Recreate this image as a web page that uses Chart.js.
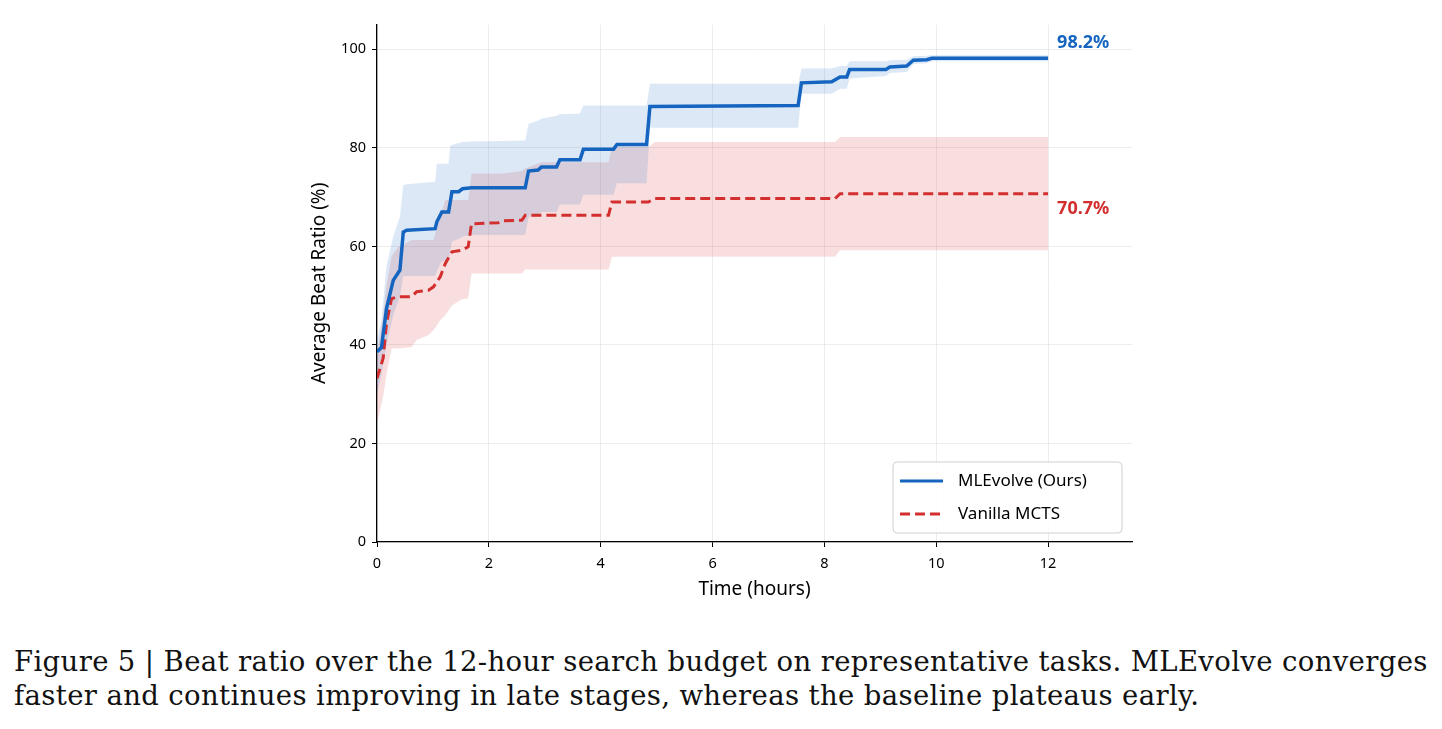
<!DOCTYPE html>
<html>
<head>
<meta charset="utf-8">
<script src="https://cdn.jsdelivr.net/npm/chart.js@4.4.1/dist/chart.umd.min.js"></script>
<style>
  html, body { margin: 0; padding: 0; background: #fff; }
  body { width: 1442px; height: 729px; position: relative; overflow: hidden; }
  #chart { position: absolute; left: 300px; top: 10px; }
  .caption {
    position: absolute; left: 14px; top: 644px; width: 1420px;
    font-family: "DejaVu Serif", serif; font-size: 27.5px; line-height: 34px;
    letter-spacing: 0.36px; color: #111; white-space: nowrap;
  }
</style>
</head>
<body>
<canvas id="chart" width="850" height="597"></canvas>
<div class="caption">Figure 5 | Beat ratio over the 12-hour search budget on representative tasks. MLEvolve converges<br>faster and continues improving in late stages, whereas the baseline plateaus early.</div>
<script>
// ---- data ----
const seriesNames = ['MLEvolve (Ours)', 'Vanilla MCTS'];

const blueTime  = [0.00, 0.08, 0.17, 0.29, 0.41, 0.47, 0.53, 1.04, 1.07, 1.16, 1.28, 1.31, 1.34, 1.46, 1.53, 1.69, 2.65, 2.71, 2.88, 2.94, 3.21, 3.27, 3.63, 3.69, 4.23, 4.29, 4.82, 4.88, 7.53, 7.59, 8.13, 8.28, 8.40, 8.45, 9.10, 9.17, 9.47, 9.59, 9.83, 9.92, 12.00];
const blueMean  = [38.6, 39.5, 47.4, 53.1, 55.2, 62.9, 63.3, 63.6, 65.0, 67.0, 67.0, 69.0, 71.1, 71.1, 71.7, 71.9, 71.9, 75.3, 75.5, 76.1, 76.1, 77.6, 77.6, 79.7, 79.7, 80.7, 80.7, 88.4, 88.6, 93.2, 93.4, 94.4, 94.4, 95.9, 95.9, 96.4, 96.6, 97.8, 97.9, 98.2, 98.2];
const blueLower = [30.0, 34.0, 40.0, 46.0, 50.0, 54.0, 54.0, 54.0, 55.0, 57.0, 57.0, 59.0, 61.0, 61.5, 62.0, 62.3, 62.3, 66.0, 66.0, 67.0, 67.0, 68.5, 68.5, 70.5, 70.5, 72.8, 72.8, 84.1, 84.1, 91.0, 91.0, 92.0, 92.0, 94.1, 94.6, 95.2, 95.4, 97.0, 97.2, 97.6, 97.6];
const blueUpper = [41.0, 45.0, 56.0, 62.0, 66.0, 72.4, 72.6, 73.1, 76.8, 76.8, 76.8, 80.5, 80.6, 81.0, 81.2, 81.3, 81.5, 84.9, 85.5, 85.9, 86.5, 86.8, 87.0, 88.6, 88.6, 88.6, 88.6, 93.0, 93.0, 96.1, 96.1, 96.6, 96.6, 97.6, 97.6, 97.8, 97.9, 98.6, 98.7, 98.8, 98.8];

const redTime  = [0.00, 0.11, 0.17, 0.26, 0.38, 0.62, 0.71, 0.92, 1.01, 1.13, 1.22, 1.34, 1.51, 1.63, 1.69, 2.17, 2.26, 2.59, 2.65, 2.94, 4.14, 4.20, 4.85, 4.97, 8.19, 8.28, 12.00];
const redMean  = [33.2, 37.3, 44.4, 49.4, 49.8, 49.8, 50.8, 51.1, 51.8, 53.8, 56.5, 58.9, 59.2, 59.9, 64.6, 64.8, 65.2, 65.3, 66.3, 66.3, 66.3, 69.0, 69.0, 69.7, 69.7, 70.7, 70.7];
const redLower = [24.0, 29.5, 34.0, 39.3, 39.3, 39.6, 41.0, 42.0, 43.0, 45.0, 46.0, 48.0, 49.2, 49.5, 54.5, 54.5, 54.5, 54.5, 55.3, 55.3, 55.3, 57.9, 57.9, 57.9, 57.9, 59.2, 59.2];
const redUpper = [38.0, 46.0, 52.0, 58.0, 59.9, 61.3, 61.3, 61.3, 61.3, 66.0, 69.4, 69.4, 69.4, 69.4, 74.8, 74.8, 74.8, 75.3, 75.8, 77.1, 77.1, 80.2, 80.2, 81.2, 81.2, 82.2, 82.2];

const xTicks = [0, 2, 4, 6, 8, 10, 12];
const yTicks = [0, 20, 40, 60, 80, 100];

// ---- styles ----
const BLUE = 'rgb(21, 101, 192)';
const RED = 'rgb(211, 47, 47)';
const BLUE_BAND = 'rgba(21, 101, 192, 0.15)';
const RED_BAND = 'rgba(211, 47, 47, 0.16)';
const FONT = '"Noto Sans", sans-serif';
const DASH = [10, 5];

function toPoints(xs, ys) {
  return xs.map(function(x, i) { return { x: x, y: ys[i] }; });
}

function bandDataset(xs, ys, color, fill) {
  return {
    data: toPoints(xs, ys),
    borderWidth: 0,
    pointRadius: 0,
    backgroundColor: color,
    fill: fill,
    tension: 0,
    order: 2
  };
}

// draws the end-value labels and the boxed legend
const annotations = {
  id: 'annotations',
  afterDatasetsDraw(chart) {
    const ctx = chart.ctx;
    const xs = chart.scales.x, ys = chart.scales.y;
    const lastB = blueMean[blueMean.length - 1];
    const lastR = redMean[redMean.length - 1];
    const endX = xs.getPixelForValue(blueTime[blueTime.length - 1]) + 9;

    ctx.save();
    ctx.font = 'bold 18px ' + FONT;
    ctx.textBaseline = 'middle';
    ctx.textAlign = 'left';
    ctx.fillStyle = BLUE;
    ctx.fillText(lastB.toFixed(1) + '%', endX, ys.getPixelForValue(lastB) - 15);
    ctx.fillStyle = RED;
    ctx.fillText(lastR.toFixed(1) + '%', endX, ys.getPixelForValue(lastR) + 15);

    // legend box (lower right, inside the plot)
    const a = chart.chartArea;
    const w = 229, h = 71;
    const bx = a.right - 10 - w, by = a.bottom - 9 - h;
    ctx.beginPath();
    ctx.roundRect(bx, by, w, h, 4);
    ctx.fillStyle = 'rgba(255,255,255,0.85)';
    ctx.fill();
    ctx.lineWidth = 1;
    ctx.strokeStyle = '#d0d0d0';
    ctx.stroke();

    const rows = [
      { label: seriesNames[0], color: BLUE, dash: [] },
      { label: seriesNames[1], color: RED, dash: DASH }
    ];
    ctx.font = '17px ' + FONT;
    rows.forEach(function(r, i) {
      const ry = by + 19 + i * 33;
      ctx.beginPath();
      ctx.setLineDash(r.dash);
      ctx.lineWidth = 3.2;
      ctx.strokeStyle = r.color;
      ctx.moveTo(bx + 7, ry);
      ctx.lineTo(bx + 50, ry);
      ctx.stroke();
      ctx.setLineDash([]);
      ctx.fillStyle = '#000';
      ctx.fillText(r.label, bx + 65, ry);
    });
    ctx.restore();
  }
};

new Chart(document.getElementById('chart'), {
  type: 'line',
  data: {
    datasets: [
      bandDataset(blueTime, blueLower, BLUE_BAND, false),
      bandDataset(blueTime, blueUpper, BLUE_BAND, '-1'),
      bandDataset(redTime, redLower, RED_BAND, false),
      bandDataset(redTime, redUpper, RED_BAND, '-1'),
      {
        label: seriesNames[0],
        data: toPoints(blueTime, blueMean),
        borderColor: BLUE,
        borderWidth: 3.5,
        pointRadius: 0,
        fill: false,
        tension: 0,
        order: 0
      },
      {
        label: seriesNames[1],
        data: toPoints(redTime, redMean),
        borderColor: RED,
        borderWidth: 3,
        borderDash: DASH,
        pointRadius: 0,
        fill: false,
        tension: 0,
        order: 1
      }
    ]
  },
  options: {
    responsive: false,
    animation: false,
    devicePixelRatio: 1,
    layout: { padding: { top: 14, right: 18, left: 0, bottom: 0 } },
    plugins: {
      legend: { display: false },
      tooltip: { enabled: false }
    },
    scales: {
      x: {
        type: 'linear',
        min: 0,
        max: 13.5,
        afterFit: function(s) { s.height = 65; },
        afterBuildTicks: function(s) { s.ticks = xTicks.map(function(v) { return { value: v }; }); },
        grid: { color: 'rgba(0,0,0,0.07)', tickColor: '#000', tickLength: 5, lineWidth: 1 },
        border: { color: '#000', width: 1.3 },
        ticks: { color: '#000', font: { family: FONT, size: 14.5 }, padding: 8, maxRotation: 0 },
        title: { display: true, text: 'Time (hours)', color: '#000', font: { family: FONT, size: 19 }, padding: { top: 4, bottom: 6 } }
      },
      y: {
        type: 'linear',
        min: 0,
        max: 105,
        afterFit: function(s) { s.width = 77; },
        afterBuildTicks: function(s) { s.ticks = yTicks.map(function(v) { return { value: v }; }); },
        grid: { color: 'rgba(0,0,0,0.07)', tickColor: '#000', tickLength: 5, lineWidth: 1 },
        border: { color: '#000', width: 1.3 },
        ticks: { color: '#000', font: { family: FONT, size: 14.5 }, padding: 6 },
        title: { display: true, text: 'Average Beat Ratio (%)', color: '#000', font: { family: FONT, size: 19 }, padding: { top: 8, bottom: 0 } }
      }
    }
  },
  plugins: [annotations]
});
</script>
</body>
</html>
